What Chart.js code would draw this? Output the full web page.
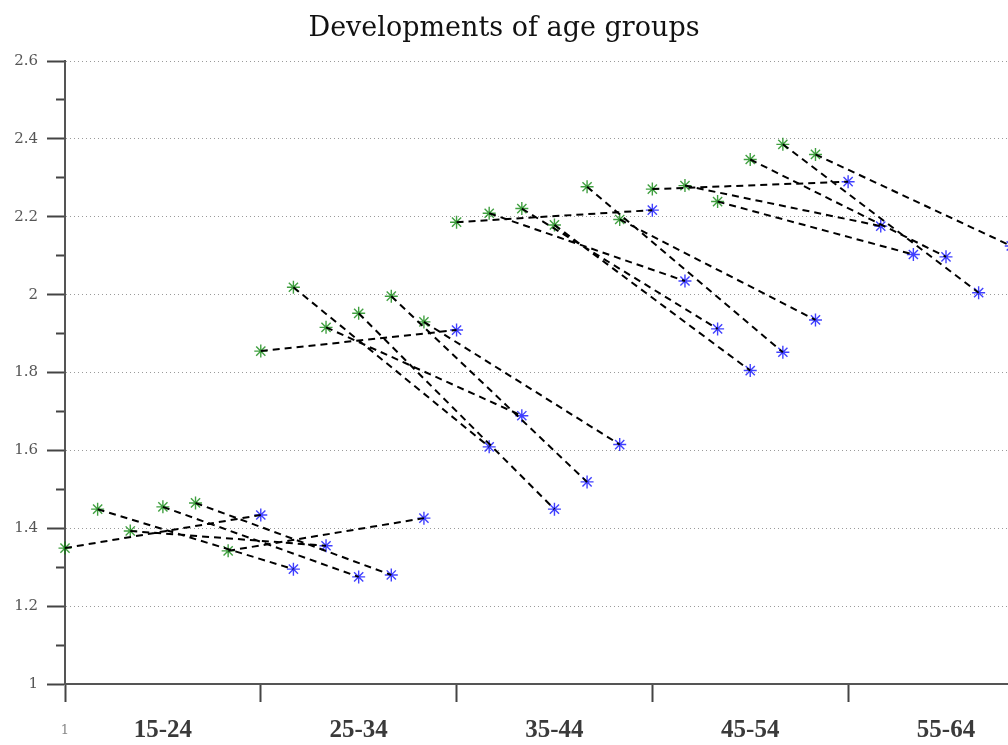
<!DOCTYPE html>
<html>
<head>
<meta charset="utf-8">
<script src="https://cdn.jsdelivr.net/npm/chart.js@4.4.1/dist/chart.umd.min.js"></script>
<style>
html,body{margin:0;padding:0;background:#fff;}
#wrap{width:1008px;height:745px;position:relative;}
</style>
</head>
<body>
<div id="wrap"><canvas id="c"></canvas></div>
<script>
// ---- data ----
const titleText = 'Developments of age groups';
const ageGroups = ['15-24', '25-34', '35-44', '45-54', '55-64'];
const groupSize = 6;
const boundaryTicks = [1, 7, 13, 19, 25];
const groupCenters = [4, 10, 16, 22, 28];
const firstTickLabel = '1';
const yMin = 1, yMax = 2.6, yMinorStep = 0.1;

// starting values (green) per cohort, positions 1..24
const startValues = [
  1.349, 1.449, 1.393, 1.455, 1.465, 1.342,
  1.855, 2.019, 1.916, 1.952, 1.996, 1.930,
  2.186, 2.209, 2.221, 2.179, 2.277, 2.193,
  2.271, 2.280, 2.239, 2.347, 2.386, 2.360
];
// later values (blue) per cohort, plotted 6 positions further
const endValues = [
  1.434, 1.295, 1.355, 1.275, 1.280, 1.426,
  1.909, 1.609, 1.689, 1.449, 1.519, 1.615,
  2.217, 2.035, 1.912, 1.805, 1.852, 1.935,
  2.290, 2.176, 2.103, 2.097, 2.005, 2.125
];

// ---- build ----
const startPoints = startValues.map((v, i) => ({x: i + 1, y: v}));
const endPoints = endValues.map((v, i) => ({x: i + 1 + groupSize, y: v}));
const linkPoints = [];
startValues.forEach((v, i) => {
  linkPoints.push(startPoints[i], endPoints[i], {x: endPoints[i].x, y: null});
});

const isCenter = v => groupCenters.includes(v);
const isMajorY = v => Math.round(v * 10) % 2 === 0;

new Chart(document.getElementById('c'), {
  type: 'scatter',
  data: {
    datasets: [
      {
        label: 'change',
        data: linkPoints,
        showLine: true,
        spanGaps: false,
        borderColor: '#000',
        borderWidth: 2,
        borderDash: [7, 5],
        pointRadius: 0,
        pointHoverRadius: 0,
        fill: false
      },
      {
        label: 'before',
        data: startPoints,
        clip: false,
        pointStyle: 'star',
        pointRadius: 6.5,
        pointHoverRadius: 6.5,
        pointBorderWidth: 1.4,
        borderColor: 'rgba(0,128,0,0.75)',
        backgroundColor: 'rgba(0,128,0,0.75)'
      },
      {
        label: 'after',
        data: endPoints,
        clip: false,
        pointStyle: 'star',
        pointRadius: 6.5,
        pointHoverRadius: 6.5,
        pointBorderWidth: 1.4,
        borderColor: 'rgba(0,0,255,0.75)',
        backgroundColor: 'rgba(0,0,255,0.75)'
      }
    ]
  },
  options: {
    responsive: true,
    maintainAspectRatio: false,
    animation: false,
    layout: {padding: 0, autoPadding: false},
    plugins: {
      legend: {display: false},
      tooltip: {enabled: false},
      title: {
        display: true,
        text: titleText,
        color: '#111',
        font: {family: 'DejaVu Serif', size: 27, weight: 'normal', lineHeight: 1.2},
        padding: {top: 13, bottom: 15.6}
      }
    },
    scales: {
      x: {
        type: 'linear',
        min: 1,
        max: 29.9,
        afterBuildTicks: s => {
          s.ticks = boundaryTicks.concat(groupCenters).sort((a, b) => a - b).map(v => ({value: v}));
        },
        afterFit: s => { s.height = 61; },
        grid: {
          display: true,
          drawOnChartArea: false,
          drawTicks: true,
          tickLength: 18,
          tickWidth: 2,
          tickColor: ctx => (ctx.tick && isCenter(ctx.tick.value)) ? 'rgba(0,0,0,0)' : '#444'
        },
        border: {display: true, color: '#555', width: 2},
        ticks: {
          autoSkip: false,
          maxRotation: 0,
          padding: 14,
          callback: v => isCenter(v) ? ageGroups[groupCenters.indexOf(v)] : (v === 1 ? firstTickLabel : ''),
          color: ctx => (ctx.tick && isCenter(ctx.tick.value)) ? '#3a3a3a' : '#888',
          font: ctx => (ctx.tick && isCenter(ctx.tick.value))
            ? {family: 'Liberation Serif', size: 25, weight: 'bold', lineHeight: 1.2}
            : {family: 'DejaVu Serif', size: 13, weight: 'normal', lineHeight: 2.2}
        }
      },
      y: {
        type: 'linear',
        min: yMin,
        max: yMax,
        afterFit: s => { s.width = 65; },
        grid: {
          display: true,
          drawOnChartArea: true,
          drawTicks: true,
          tickLength: 18,
          tickWidth: 2,
          lineWidth: 1,
          color: ctx => (ctx.tick && isMajorY(ctx.tick.value)) ? '#9a9a9a' : 'rgba(0,0,0,0)',
          tickColor: '#444',
          tickBorderDash: ctx => (ctx.tick && isMajorY(ctx.tick.value)) ? [] : [0, 9, 40, 0]
        },
        border: {display: true, color: '#555', width: 2, dash: [1, 3]},
        ticks: {
          stepSize: yMinorStep,
          autoSkip: false,
          padding: 9,
          color: '#555',
          font: {family: 'DejaVu Serif', size: 15},
          callback: v => isMajorY(v) ? String(Math.round(v * 10) / 10) : ''
        }
      }
    }
  }
});
</script>
</body>
</html>
